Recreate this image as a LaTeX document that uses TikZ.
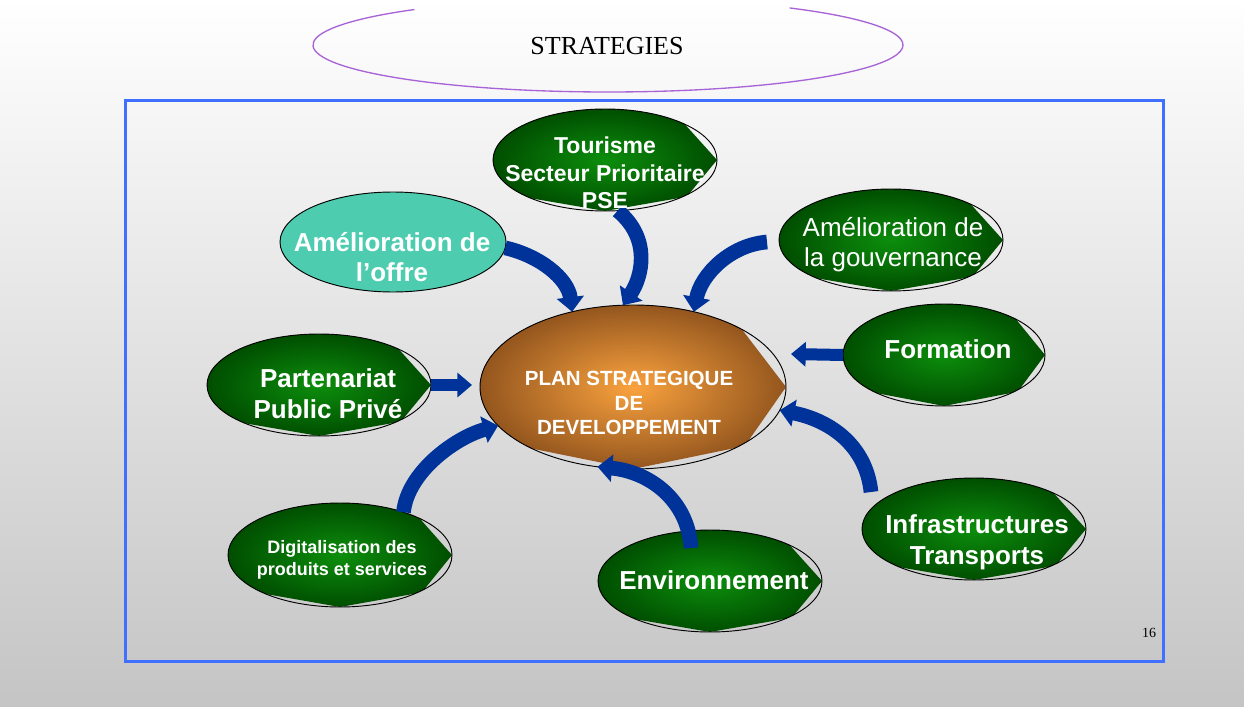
\documentclass[tikz,border=0pt]{standalone}
\usepackage{fontspec}
\setmainfont{Liberation Sans}
\newfontfamily\serifface{Liberation Serif}
\usetikzlibrary{shapes.geometric,arrows.meta,calc}

\definecolor{leafin}{RGB}{12,142,12}
\definecolor{leafout}{RGB}{0,78,0}
\definecolor{planin}{RGB}{250,162,62}
\definecolor{planout}{RGB}{148,86,30}
\definecolor{offreteal}{RGB}{78,204,176}
\definecolor{flowblue}{RGB}{0,51,153}
\definecolor{frameblue}{RGB}{64,112,255}
\definecolor{titleline}{RGB}{168,100,215}

\tikzset{every picture/.style={line width=0.75pt}}
\tikzset{
  leaf/.style={ellipse, draw=black, line width=0.7pt, inner sep=0pt, outer sep=0pt},
  greenfill/.style={inner color=leafin, outer color=leafout},
  orangefill/.style={inner color=planin, outer color=planout},
  leaftext/.style={text=white, align=center, inner sep=0.75pt, font=\bfseries\fontsize{19.5}{22.5}\selectfont},
  flow/.style={draw=flowblue, line width=11pt, -{Triangle[length=11pt,width=20pt]}},
  shortflow/.style={draw=flowblue, line width=9pt, -{Triangle[length=11pt,width=18pt]}},
}

% #1 name, #2 centre, #3 x radius, #4 y radius, #5 fill style
\newcommand\leafshape[5]{%
  \begin{scope}
    \clip (#2) ellipse [x radius=#3, y radius=#4];
    \shade[#5, shift={(#2)}, xscale=#3, yscale=#4] (-1,-1) -- (0.59,-1) -- (1,0) -- (0.73,0.72) -- (0,1) -- (-0.69,0.74) -- (-1,0.62) -- cycle;
  \end{scope}
  \node[leaf, minimum width=#3*1.5pt, minimum height=#4*1.5pt] (#1) at (#2) {};
}

\begin{document}
\begin{tikzpicture}[x=0.75pt,y=0.75pt,yscale=-1,xscale=1]
\useasboundingbox (0,0) rectangle (1244,706);
%Background
\shade[top color=white, bottom color=black!23] (0,0) rectangle (1244,706);
%Title
\draw[titleline, line width=1pt] (608,45) ++(229:295 and 47) arc[start angle=229, end angle=-52, x radius=295, y radius=47];
\node[font=\serifface\fontsize{19.5}{22}\selectfont, inner sep=0.75pt] (title) at (607,46) {STRATEGIES};
%Frame
\draw[frameblue, line width=2.25pt] (125,101) rectangle (1163,661);
\node[font=\serifface\fontsize{10.5}{12}\selectfont, inner sep=0.75pt] (pagenum) at (1149,633) {16};

%Shapes: Ellipse
\leafshape{plan}{633,387}{153}{82}{orangefill}
\leafshape{tourisme}{605,160}{112}{51}{greenfill}
\node[leaf, fill=offreteal, minimum width=113*1.5pt, minimum height=50*1.5pt] (offre) at (393,242) {};
\leafshape{gouvernance}{891,240}{112}{51}{greenfill}
\leafshape{formation}{944,355}{101}{51}{greenfill}
\leafshape{partenariat}{319,385}{112}{51}{greenfill}
\leafshape{digitalisation}{340,555}{112}{52}{greenfill}
\leafshape{environnement}{710,581}{112}{51}{greenfill}
\leafshape{infrastructures}{974,529}{112}{51}{greenfill}

%Arrows
\draw[flow] (offre.-3) .. controls +(35,8) and +(-4,-33) .. (plan.129);
\draw[flow] (tourisme.284) .. controls +(34,28) and +(19,-28) .. (plan.97);
\draw[flow] ($(gouvernance.west)+(-12,2)$) .. controls +(-37,3) and +(7,-37) .. (plan.51);
\draw[shortflow] (formation.west) -- ($(formation.west -| plan.east)+(5,-1)$);
\draw[shortflow] (partenariat.east) -- ($(partenariat.east -| plan.west)+(-8,0)$);
\draw[flow] (digitalisation.34) .. controls +(4,-40) and +(-43,12) .. (plan.196);
\draw[flow] ($(environnement.north)+(-19,18)$) .. controls +(-3,-48) and +(52,5) .. (plan.246);
\draw[flow] ($(infrastructures.west)+(9,-37)$) .. controls +(-5,-47) and +(50,10) .. (plan.351);

% Text Node
\node[leaftext, font=\bfseries\fontsize{15.4}{18.6}\selectfont] (planText) at (629,403) {PLAN STRATEGIQUE\\DE\\DEVELOPPEMENT};
% Text Node
\node[leaftext, font=\bfseries\fontsize{17.25}{20.5}\selectfont] (tourismeText) at (605,173) {Tourisme\\Secteur Prioritaire\\PSE};
% Text Node
\node[leaftext] (offreText) at (392,257) {Amélioration de\\l’offre};
% Text Node
\node[leaftext, font=\fontsize{19.5}{22.5}\selectfont] (gouvernanceText) at (893,245) {Amélioration de\\la gouvernance};
% Text Node
\node[leaftext] (formationText) at (948,349) {Formation};
% Text Node
\node[leaftext, font=\bfseries\fontsize{19.5}{23.5}\selectfont] (partenariatText) at (328,394) {Partenariat\\Public Privé};
% Text Node
\node[leaftext, font=\bfseries\fontsize{13.5}{16.8}\selectfont] (digitalisationText) at (342,560) {Digitalisation des\\produits et services};
% Text Node
\node[leaftext] (environnementText) at (714,580) {Environnement};
% Text Node
\node[leaftext, font=\bfseries\fontsize{19.5}{23}\selectfont] (infrastructuresText) at (977,542) {Infrastructures\\Transports};

\end{tikzpicture}
\end{document}
